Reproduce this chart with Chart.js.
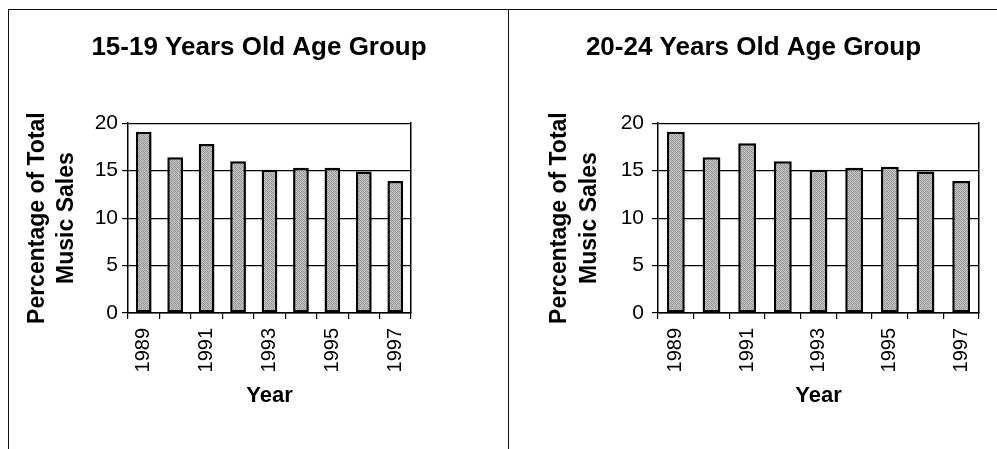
<!DOCTYPE html>
<html>
<head>
<meta charset="utf-8">
<script src="https://cdn.jsdelivr.net/npm/chart.js@4/dist/chart.umd.min.js"></script>
<style>
  html, body { margin: 0; padding: 0; background: #fff; }
  body { width: 997px; height: 449px; position: relative; overflow: hidden; }
  .frame-top { position: absolute; left: 8px; top: 9px; width: 989px; height: 0; border-top: 1.5px solid #111; }
  .frame-left { position: absolute; left: 8px; top: 9px; width: 0; height: 440px; border-left: 1.5px solid #111; }
  .frame-mid { position: absolute; left: 508px; top: 9px; width: 0; height: 440px; border-left: 1.5px solid #111; }
  .panel { position: absolute; top: 10px; height: 439px; }
  #left { left: 10px; width: 498px; }
  #right { left: 510px; width: 487px; }
</style>
</head>
<body>
<div class="frame-top"></div>
<div class="frame-left"></div>
<div class="frame-mid"></div>
<div class="panel" id="left"><canvas id="chartLeft" width="498" height="439"></canvas></div>
<div class="panel" id="right"><canvas id="chartRight" width="487" height="439"></canvas></div>

<script>
const years = ['1989', '1990', '1991', '1992', '1993', '1994', '1995', '1996', '1997'];
// share of total music sales (%)
const sales15to19 = [19.1, 16.4, 17.8, 16.0, 15.1, 15.3, 15.3, 14.9, 13.9];
const sales20to24 = [19.1, 16.4, 17.9, 16.0, 15.1, 15.3, 15.4, 14.9, 13.9];
const yTicks = [0, 5, 10, 15, 20];

const FONT = "'Liberation Sans', Arial, Helvetica, sans-serif";

// small stippled gray tile for the bar fill
function stipple() {
  const tile = document.createElement('canvas');
  tile.width = 4;
  tile.height = 4;
  const t = tile.getContext('2d');
  const dots = [
    [0x9a, 0xc6, 0xa4, 0xbe],
    [0xc2, 0x8e, 0xca, 0x98],
    [0xa8, 0xbc, 0x94, 0xc4],
    [0xc8, 0x9c, 0xb8, 0xa0]
  ];
  dots.forEach((row, y) => row.forEach((g, x) => {
    t.fillStyle = `rgb(${g},${g},${g})`;
    t.fillRect(x, y, 1, 1);
  }));
  return tile;
}

function makeChart(canvasId, title, values, opts) {
  const ctx = document.getElementById(canvasId).getContext('2d');
  const fill = ctx.createPattern(stipple(), 'repeat');
  return new Chart(ctx, {
    type: 'bar',
    data: {
      labels: years,
      datasets: [{
        data: values,
        backgroundColor: fill,
        borderColor: '#000',
        borderWidth: 2.5,
        borderSkipped: false,
        barPercentage: 0.5,
        categoryPercentage: 1.0
      }]
    },
    options: {
      responsive: false,
      animation: false,
      events: [],
      layout: { padding: { bottom: 40 } },
      plugins: {
        legend: { display: false },
        tooltip: { enabled: false },
        title: {
          display: true,
          text: title,
          color: '#000',
          font: { family: FONT, size: 26, weight: 'bold', lineHeight: 1.2 },
          padding: { top: 22, bottom: 60 }
        }
      },
      scales: {
        x: {
          offset: true,
          grid: { offset: true, drawOnChartArea: false, color: '#000', lineWidth: 1.2, tickLength: 6 },
          border: { display: true, color: '#000', width: 1.5 },
          ticks: {
            autoSkip: false,
            minRotation: 90,
            maxRotation: 90,
            padding: 9,
            color: '#000',
            font: { family: FONT, size: 20 },
            // only every other year is labelled
            callback: (val, i) => (i % 2 === 0 ? years[i] : '')
          },
          title: {
            display: true,
            text: 'Year',
            color: '#000',
            font: { family: FONT, size: 22, weight: 'bold', lineHeight: 1.2 },
            padding: { top: 12, bottom: 0 }
          },
          afterFit: (scale) => { scale.height = 96; }
        },
        y: {
          min: 0,
          max: 20,
          afterBuildTicks: (scale) => { scale.ticks = yTicks.map(v => ({ value: v })); },
          grid: { color: '#000', lineWidth: 1.2, tickLength: 6 },
          border: { display: true, color: '#000', width: 1.5 },
          ticks: {
            padding: opts.tickPad,
            color: '#000',
            font: { family: FONT, size: 21 }
          },
          title: {
            display: true,
            text: ['Percentage of Total', 'Music Sales'],
            color: '#000',
            font: { family: FONT, size: 23, weight: 'bold', lineHeight: opts.titleLine },
            padding: { top: opts.titlePad, bottom: 0 }
          },
          afterFit: (scale) => { scale.width = opts.yWidth; }
        },
        // right-hand edge of the plot box
        edge: {
          position: 'right',
          min: 0,
          max: 20,
          ticks: { display: false },
          grid: { drawOnChartArea: false, drawTicks: false },
          border: { display: true, color: '#000', width: 1.5 },
          afterFit: (scale) => { scale.width = opts.rightWidth; }
        }
      }
    }
  });
}

makeChart('chartLeft', '15-19 Years Old Age Group', sales15to19,
  { yWidth: 118, rightWidth: 97, tickPad: 4, titlePad: 13, titleLine: 1.26 });
makeChart('chartRight', '20-24 Years Old Age Group', sales20to24,
  { yWidth: 148, rightWidth: 18, tickPad: 8, titlePad: 35, titleLine: 1.3 });
</script>
</body>
</html>
